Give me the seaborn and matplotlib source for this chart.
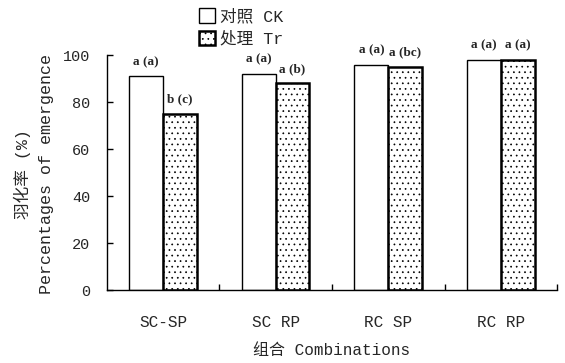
import numpy as np
import pandas as pd
import matplotlib
matplotlib.use("Agg")
import matplotlib.pyplot as plt
import seaborn as sns

# data
combos = ["SC-SP", "SC RP", "RC SP", "RC RP"]
groups = ["对照 CK", "处理 Tr"]
ck_vals = [91, 92, 96, 98]
tr_vals = [75, 88, 95, 98]
ck_letters = ["a (a)", "a (a)", "a (a)", "a (a)"]
tr_letters = ["b (c)", "a (b)", "a (bc)", "a (a)"]

df = pd.DataFrame({
    "combo": combos * 2,
    "group": [groups[0]] * 4 + [groups[1]] * 4,
    "value": ck_vals + tr_vals,
})

sns.set_theme(style="white")
plt.rcParams["font.family"] = ["Liberation Mono", "Noto Sans CJK SC"]
plt.rcParams["hatch.linewidth"] = 0.5

fig = plt.figure(figsize=(5.65, 3.63), dpi=100)
ax = fig.add_axes([0.189, 0.201, 0.797, 0.647])

sns.barplot(data=df, x="combo", y="value", hue="group", order=combos,
            hue_order=groups, palette=["white", "white"], width=0.6,
            edgecolor="black", linewidth=1.0, ax=ax, legend=False)

# sparse dotted fill on treatment bars
for p in ax.containers[1]:
    p.set_hatch("...")
    p.set_linewidth(1.8)

# significance letters above the bars
for cont, labs in zip(ax.containers, [ck_letters, tr_letters]):
    ax.bar_label(cont, labels=labs, padding=6, fontsize=9.5,
                 fontweight="bold", family="Liberation Serif")

ax.set_xlim(-0.5, 3.5)
ax.set_ylim(0, 100)
ax.set_yticks(np.arange(0, 101, 20))
ax.tick_params(axis="y", direction="in", length=4, width=1, labelsize=11,
               left=True, color="black", pad=12)
ax.tick_params(axis="x", length=0, labelsize=11.5, pad=18)
ax.set_xticks([0.5, 1.5, 2.5, 3.5], minor=True)
ax.tick_params(axis="x", which="minor", direction="in", length=4, width=1,
               bottom=True, color="black")

for s in ["top", "right"]:
    ax.spines[s].set_visible(False)
for s in ["left", "bottom"]:
    ax.spines[s].set_color("black")
    ax.spines[s].set_linewidth(1.0)

ax.set_xlabel("组合 Combinations", fontsize=11.5, labelpad=9)
ax.set_ylabel("")
fig.text(0.04, 0.52, "羽化率 (%)", rotation=90, ha="center", va="center",
         fontsize=12)
fig.text(0.082, 0.52, "Percentages of emergence", rotation=90, ha="center",
         va="center", fontsize=12)

handles = [ax.containers[0][0], ax.containers[1][0]]
fig.legend(handles, groups, loc="upper left", bbox_to_anchor=(0.325, 1.02),
           frameon=False, handlelength=1.0, handleheight=1.0,
           handletextpad=0.3, labelspacing=0.4, fontsize=12)

fig.savefig("out.png", dpi=100)
